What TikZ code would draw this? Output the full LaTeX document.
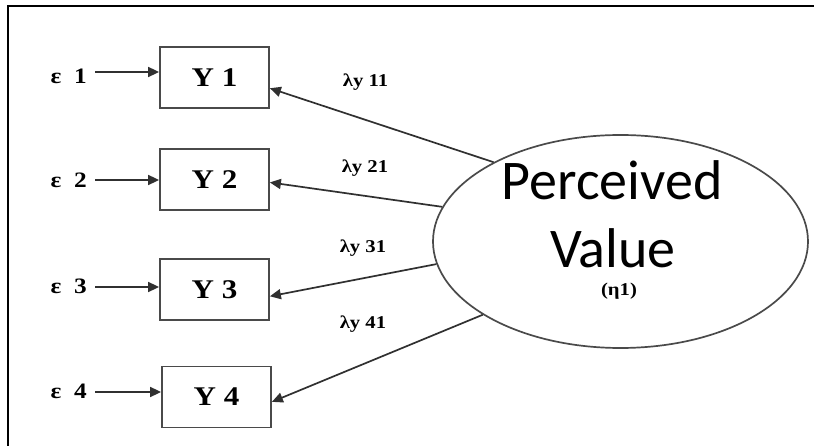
\documentclass[tikz,border=0pt]{standalone}
\usepackage{fontspec}
\setmainfont{Liberation Serif}
\newfontfamily\calib{Carlito}
\newfontfamily\lblfont[FakeStretch=1.15]{Liberation Serif}
\usetikzlibrary{shapes.geometric,arrows.meta}
\definecolor{linegray}{HTML}{303030}
\definecolor{boxgray}{HTML}{4A4A4A}
\begin{document}
\begin{tikzpicture}[x=1pt,y=-1pt,
  obs/.style={draw=boxgray, line width=1.8pt, minimum width=109pt, minimum height=61pt, inner sep=0pt,
    font=\lblfont\fontsize{27}{28}\selectfont\bfseries},
  err/.style={font=\lblfont\fontsize{22}{24}\selectfont\bfseries, inner sep=0pt, anchor=east},
  lam/.style={font=\lblfont\fontsize{18}{20}\selectfont\bfseries, inner sep=0pt, anchor=base},
  arr/.style={-{Triangle[length=11pt,width=10pt]}, line width=1.7pt, draw=linegray},
  frame/.style={line width=2.2pt, draw=black},
]
\useasboundingbox (0,0) rectangle (814,446);
\fill[white] (0,0) rectangle (814,446);
\coordinate (fa) at (8,446);
\coordinate (fb) at (8,6);
\coordinate (fc) at (814,6);
\draw[frame] (fa) -- (fb) -- (fc);

% observed indicators
\node[obs] (y1) at (214.5,77.5) {Y 1};
\node[obs] (y2) at (214.5,179.5) {Y 2};
\node[obs] (y3) at (214.5,289.5) {Y 3};
\node[obs] (y4) at (216.5,397) {Y 4};

% error terms
\node[err] (e1) at (87,76) {ε\ \ 1};
\node[err] (e2) at (87,180) {ε\ \ 2};
\node[err] (e3) at (87,286) {ε\ \ 3};
\node[err] (e4) at (87,391) {ε\ \ 4};

\draw[arr, shorten <=8pt] ([yshift=4pt]e1.east) -- ([yshift=4pt]e1.east -| y1.west);
\draw[arr, shorten <=8pt] (e2.east) -- (e2.east -| y2.west);
\draw[arr, shorten <=8pt] ([yshift=-1pt]e3.east) -- ([yshift=-1pt]e3.east -| y3.west);
\draw[arr, shorten <=8pt] ([yshift=-1pt]e4.east) -- ([yshift=-1pt]e4.east -| y4.west);

% latent variable
\node[draw=boxgray, line width=1.7pt, ellipse, minimum width=375pt, minimum height=213pt, inner sep=0pt] (pv) at (620.5,241.5) {};
\node[font=\calib\fontsize{56}{68}\selectfont, anchor=base, inner sep=0pt] (pvt1) at (612,200) {Perceived};
\node[font=\calib\fontsize{56}{68}\selectfont, anchor=base, inner sep=0pt] (pvt2) at (613,268) {Value};
\node[font=\lblfont\fontsize{18}{20}\selectfont\bfseries, inner sep=0pt] (eta) at (619,291) {(η1)};

% loadings
\draw[arr] (pv.148.6) -- (y1.-11);
\draw[arr] (pv.169.5) -- (y2.-3.7);
\draw[arr] (pv.187.8) -- (y3.-7.8);
\draw[arr] (pv.208.3) -- (y4.-5.2);

\node[lam] (l1) at (365.5,87) {λy 11};
\node[lam] (l2) at (365,173) {λy 21};
\node[lam] (l3) at (363,253) {λy 31};
\node[lam] (l4) at (363,329) {λy 41};
\end{tikzpicture}
\end{document}
